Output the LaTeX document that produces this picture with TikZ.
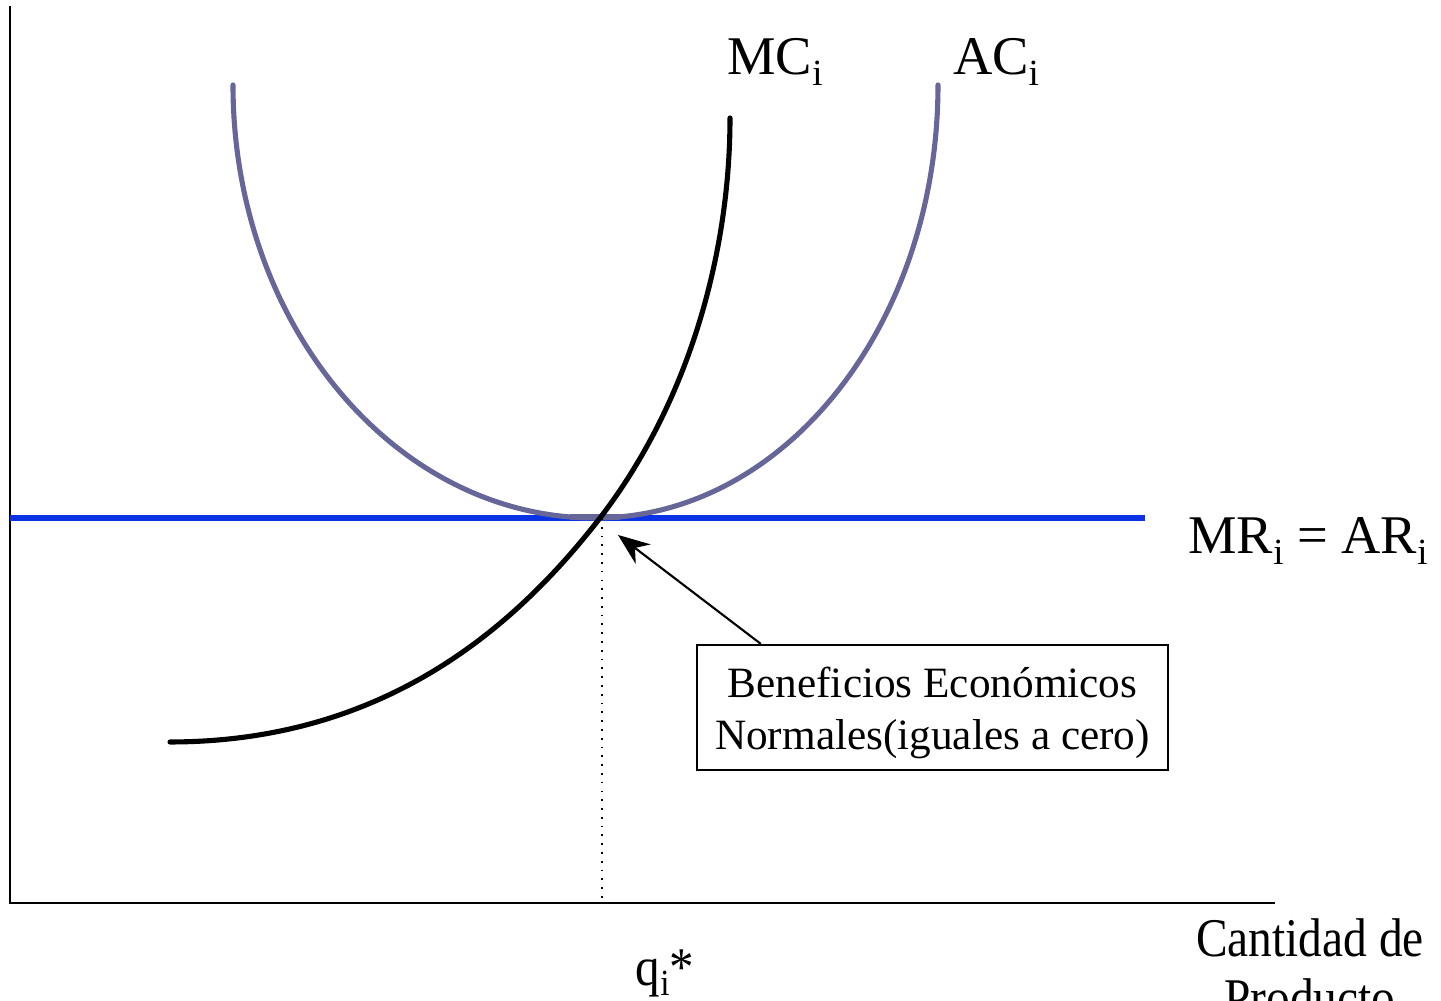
\documentclass[tikz,border=0pt]{standalone}
\usepackage{fontspec}
\setmainfont{Liberation Serif}
\usepackage{xcolor}
\usepackage{graphicx}
\usetikzlibrary{arrows.meta, calc, positioning}

\definecolor{acpurple}{RGB}{102,102,153}
\definecolor{mrblue}{RGB}{12,50,230}

% Lowered subscript i, as the picture sets it
\newcommand{\subi}{\raisebox{-0.42ex}{\fontsize{10.5}{10.5}\selectfont i}}

\begin{document}
\begin{tikzpicture}[x=0.01cm, y=0.01cm,
    curvelabel/.style={font=\fontsize{15.5}{18}\selectfont, inner sep=0pt},
    notebox/.style={draw, line width=0.6pt, inner sep=0pt,
        minimum width=4.71cm, minimum height=1.25cm},
    notetext/.style={align=center, inner sep=0pt,
        font=\fontsize{12.3}{14.8}\selectfont}]
        \useasboundingbox (0,0) rectangle (1441,1001);

        % Axes
        \coordinate (O) at (10,98);
        \coordinate (Ytop) at (10,995);
        \coordinate (Xend) at (1275,98);
        \draw[line width=0.7pt] (Ytop) -- (O) -- (Xend);

        % Equilibrium point (min of AC, where MC crosses)
        \coordinate (E) at (600,483);

        % Price line MR = AR
        \coordinate (MRstart) at (10,483);
        \coordinate (MRend) at (1145,483);
        \draw[mrblue, line width=1.55pt] (MRstart) -- (MRend);

        % Average cost curve (U shape)
        \coordinate (ACleft) at (233,916);
        \draw[acpurple, line width=1.45pt, line cap=round]
            (ACleft) arc[start angle=180, end angle=270, x radius=362, y radius=433]
            arc[start angle=270, end angle=360, x radius=343, y radius=433];
        % short flat piece at the bottom
        \draw[acpurple, line width=1.6pt] ($(E)+(-30,1)$) -- ($(E)+(20,1)$);

        % Marginal cost curve
        \coordinate (MCstart) at (170,259);
        \coordinate (MCend) at (730,883);
        \draw[black, line width=1.45pt, line cap=round]
            (MCstart) .. controls (390,259) and (520,380) .. (E)
            .. controls (690,600) and (730,750) .. (MCend);

        % Dotted line down to the quantity axis
        \coordinate (Qfoot) at (602,98);
        \draw[dotted, line width=0.5pt] ($(E)+(2,0)$) -- (Qfoot);

        % Labels for curves
        \node[curvelabel] (MClabel) at (775,939) {MC\subi};
        \node[curvelabel] (AClabel) at (996,939) {AC\subi};
        \node[curvelabel] (MRlabel) at (1308,460) {MR\subi{} = AR\subi};

        % Axis labels
        \node[curvelabel] (qlabel) at (665,28) {\scalebox{0.9}[1]{q\subi*}};
        \node[curvelabel, align=center, font=\fontsize{15.5}{17}\selectfont]
            (xlabel) at (1310,33) {\scalebox{0.87}[1]{Cantidad de}\\\scalebox{0.87}[1]{Producto}};

        % Note box with arrow to the equilibrium
        \node[notebox] (note) at (932.5,293.5) {};
        \node[notetext] (notetext) at ($(note.center)+(0,-5)$) {Beneficios Económicos\\Normales(iguales a cero)};
        \coordinate (tip) at (618,466);
        \draw[-{Stealth[length=9pt, width=7pt]}, line width=0.6pt]
            (note.north west) ++(65,0) coordinate (tail) -- (tip);
    \end{tikzpicture}
\end{document}
